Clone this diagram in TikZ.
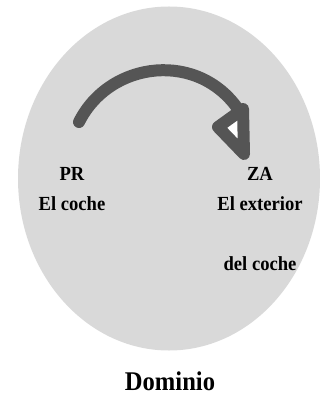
\documentclass[tikz,border=0pt]{standalone}
\usepackage{fontspec}
\setmainfont{Liberation Serif}
\definecolor{dom}{HTML}{D9D9D9}
\definecolor{arr}{HTML}{555555}
\newcommand{\narrow}[2]{\scalebox{#1}[1]{#2}}
\begin{document}
\begin{tikzpicture}[x=1pt,y=-1pt,
  lbl/.style={font=\bfseries\fontsize{20}{22}\selectfont, inner sep=0pt, anchor=base},
  arrline/.style={draw=arr, line width=12pt, line cap=round, line join=round}]
\useasboundingbox (0,0) rectangle (320,395);
\fill[dom] (169,178.5) ellipse [x radius=151, y radius=172];
\coordinate (s) at (79,122);
\coordinate (e) at (240,112);
\draw[arrline] (s) .. controls (110,60) and (200,50) .. (e);
\draw[arrline, fill=white] (218,127) -- (243,109) -- (244,154) -- cycle;
\node[lbl] (pr) at (72,180) {\narrow{0.93}{PR}};
\node[lbl] (pr2) at (72,210) {\narrow{0.93}{El coche}};
\node[lbl] (za) at (260,180) {\narrow{0.93}{ZA}};
\node[lbl] (za2) at (260,210) {\narrow{0.93}{El exterior}};
\node[lbl] (za3) at (260,270) {\narrow{0.93}{del coche}};
\node[lbl, font=\bfseries\fontsize{27}{29}\selectfont] (dom) at (170,390) {\narrow{0.91}{Dominio}};
\end{tikzpicture}
\end{document}
